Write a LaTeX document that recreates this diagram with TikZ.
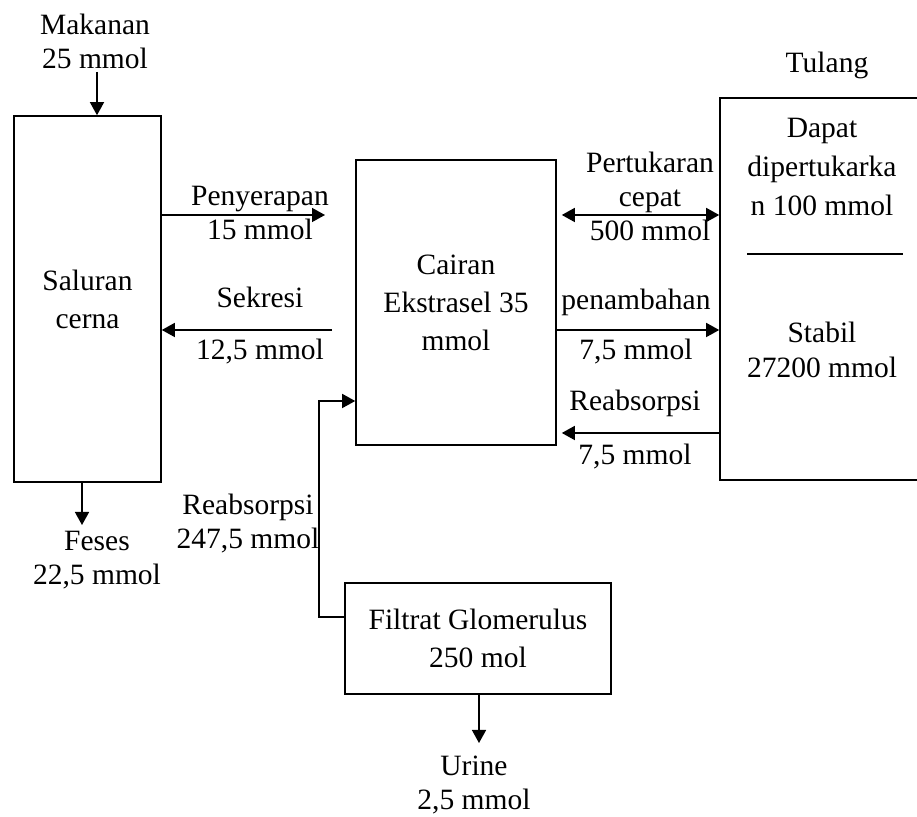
\documentclass[tikz,border=0pt]{standalone}
\usepackage{fontspec}
\setmainfont{Liberation Serif}
\usepackage{tikz}
\usetikzlibrary{arrows.meta,positioning}

\begin{document}
\begin{tikzpicture}[x=0.5pt, y=-0.5pt,
    box/.style={rectangle, draw, line width=0.8pt, inner sep=0pt, align=center, font=\fontsize{14.75}{19}\selectfont},
    lbl/.style={inner sep=0pt, align=center, font=\fontsize{14.75}{17}\selectfont},
    line/.style={draw, line width=0.75pt, -{Triangle[length=6.5pt, width=7pt]}},
    both/.style={draw, line width=0.75pt, {Triangle[length=6.5pt, width=7pt]}-{Triangle[length=6.5pt, width=7pt]}}]

    \clip (0,0) rectangle (917,817);

    % Boxes
    \node [box, minimum width=73.5pt, minimum height=183pt] (salur) at (87.5,299) {Saluran\\cerna};
    \node [box, minimum width=100pt, minimum height=142.5pt] (cairan) at (456,302.5) {Cairan\\Ekstrasel 35\\mmol};
    \node [box, minimum width=110pt, minimum height=191pt] (tulang) at (830,289) {};
    \node [box, minimum width=133pt, minimum height=55.5pt] (filtrat) at (478,638.5) {Filtrat Glomerulus\\250 mol};

    % Inside the bone box
    \node [lbl, font=\fontsize{14.75}{19.5}\selectfont] (dapat) at (822,167) {Dapat\\dipertukarka\\n 100 mmol};
    \draw [line width=0.75pt] (747,254) -- (903,254);
    \node [lbl, font=\fontsize{14.75}{17.5}\selectfont] (stabil) at (822,350) {Stabil\\27200 mmol};

    % Labels
    \node [lbl] (tulangLbl) at (827,65) {Tulang};
    \node [lbl] (makan) at (95,41) {Makanan\\25 mmol};
    \node [lbl] (serap) at (260,213) {Penyerapan\\15 mmol};
    \node [lbl] (sekresi) at (260,326) {Sekresi\\[9pt]12,5 mmol};
    \node [lbl] (tukar) at (650,196) {Pertukaran\\cepat\\500 mmol};
    \node [lbl] (tambah) at (636,327) {penambahan\\[8pt]7,5 mmol};
    \node [lbl] (reabTulang) at (635,430) {Reabsorpsi\\[10pt]7,5 mmol};
    \node [lbl] (reabGinjal) at (248,524) {Reabsorpsi\\247,5 mmol};
    \node [lbl] (feses) at (97,560) {Feses\\22,5 mmol};
    \node [lbl] (urine) at (474,785) {Urine\\2,5 mmol};

    % Free ends
    \coordinate (makanEnd) at (97,72);
    \coordinate (fesesTip) at (82,525);
    \coordinate (serapTip) at (325,215);
    \coordinate (sekresiEnd) at (332,330);
    \coordinate (urineTip) at (479,743);

    % Paths
    \path [line] (makanEnd) -- (makanEnd |- salur.north);
    \path [line] (fesesTip |- salur.south) -- (fesesTip);
    \path [line] (serapTip -| salur.east) -- (serapTip);
    \path [line] (sekresiEnd) -- (sekresiEnd -| salur.east);
    \path [both, shorten <=2.5pt] ([yshift=43.75pt]cairan.east) -- ([yshift=43.75pt]cairan.east -| tulang.west);
    \path [line] ([yshift=-13.75pt]cairan.east) -- ([yshift=-13.75pt]cairan.east -| tulang.west);
    \path [line, shorten >=2.5pt] ([yshift=-65.25pt]cairan.east -| tulang.west) -- ([yshift=-65.25pt]cairan.east);
    \path [line] ([yshift=10.75pt]filtrat.west) -- ++(-12.5pt,0) |- ([yshift=-49.25pt]cairan.west);
    \path [line] (urineTip |- filtrat.south) -- (urineTip);

\end{tikzpicture}
\end{document}
